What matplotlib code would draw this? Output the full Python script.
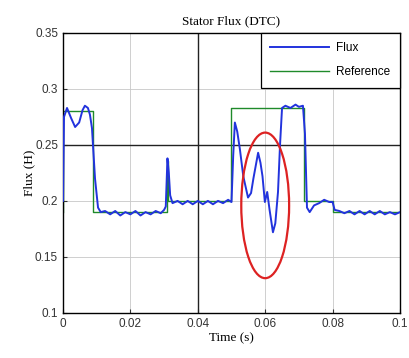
import matplotlib

matplotlib.use("Agg")

import matplotlib.pyplot as plt
from matplotlib.patches import Ellipse

# Flux trace (time in s, flux in H)
flux_t = [
    0.0, 0.0003, 0.0012, 0.0024, 0.0036, 0.0048, 0.0058, 0.0065, 0.0074, 0.0080,
    0.0086, 0.0095, 0.0104, 0.0112, 0.0125, 0.014, 0.0155, 0.017, 0.0185, 0.020,
    0.0215, 0.023, 0.0245, 0.026, 0.0275, 0.029, 0.0300, 0.0305, 0.0310, 0.0314,
    0.0318, 0.0325, 0.034, 0.0355, 0.037, 0.0385, 0.040, 0.0415, 0.043, 0.0445,
    0.046, 0.0475, 0.049, 0.0500, 0.0505, 0.0510, 0.0517, 0.0525, 0.0535, 0.0549,
    0.0558, 0.0565, 0.0579, 0.0586, 0.0592, 0.0599, 0.0606, 0.0613, 0.0623, 0.0630,
    0.0638, 0.0644, 0.0650, 0.0660, 0.0675, 0.0690, 0.0700, 0.0712, 0.0718, 0.0724,
    0.0732, 0.0745, 0.0760, 0.0775, 0.0790, 0.0800, 0.0806, 0.082, 0.0835, 0.085,
    0.0865, 0.088, 0.0895, 0.091, 0.0925, 0.094, 0.0955, 0.097, 0.0985, 0.100,
]
flux_v = [
    0.200, 0.275, 0.283, 0.274, 0.266, 0.270, 0.281, 0.285, 0.283, 0.277,
    0.265, 0.220, 0.194, 0.190, 0.191, 0.188, 0.191, 0.187, 0.190, 0.188,
    0.191, 0.187, 0.190, 0.188, 0.191, 0.189, 0.192, 0.195, 0.238, 0.225,
    0.205, 0.198, 0.200, 0.197, 0.200, 0.197, 0.200, 0.197, 0.200, 0.197,
    0.200, 0.198, 0.201, 0.199, 0.240, 0.270, 0.262, 0.246, 0.222, 0.203,
    0.207, 0.220, 0.243, 0.234, 0.222, 0.199, 0.208, 0.192, 0.172, 0.180,
    0.208, 0.250, 0.283, 0.285, 0.283, 0.286, 0.284, 0.285, 0.260, 0.194,
    0.190, 0.196, 0.198, 0.201, 0.199, 0.199, 0.192, 0.191, 0.189, 0.191,
    0.188, 0.191, 0.188, 0.191, 0.188, 0.191, 0.188, 0.190, 0.188, 0.190,
]

# Reference flux (step profile)
ref_t = [0.0, 0.0, 0.0088, 0.0088, 0.0309, 0.0309, 0.0312, 0.0312, 0.0500, 0.0500,
         0.0715, 0.0715, 0.0800, 0.0800, 0.100]
ref_v = [0.190, 0.280, 0.280, 0.190, 0.190, 0.236, 0.236, 0.200, 0.200, 0.283,
         0.283, 0.200, 0.200, 0.190, 0.190]

x_ticks = [0, 0.02, 0.04, 0.06, 0.08, 0.1]
x_labels = ["0", "0.02", "0.04", "0.06", "0.08", "0.1"]
y_ticks = [0.1, 0.15, 0.2, 0.25, 0.3, 0.35]
y_labels = ["0.1", "0.15", "0.2", "0.25", "0.3", "0.35"]

fig = plt.figure(figsize=(4.09, 3.58), dpi=100)
ax = fig.add_axes([0.154, 0.126, 0.824, 0.782])

ax.grid(True, color="#c8c8c8", linewidth=0.6)
# the scanned figure shows a couple of grid lines much darker than the rest
ax.axvline(0.04, color="#222222", linewidth=1.0, zorder=1.8)
ax.axhline(0.25, color="#222222", linewidth=1.0, zorder=1.8)

ax.plot(ref_t, ref_v, color="#1f8a2a", linewidth=1.0, label="Reference", zorder=2)
ax.plot(flux_t, flux_v, color="#2233dd", linewidth=1.4, label="Flux", zorder=3)

# highlight of the transient region
ax.add_patch(Ellipse((0.060, 0.196), 0.0142, 0.130, fill=False,
                     edgecolor="#dd2222", linewidth=1.6, zorder=4))

ax.set_xlim(0, 0.1)
ax.set_ylim(0.1, 0.35)
ax.set_xticks(x_ticks)
ax.set_xticklabels(x_labels)
ax.set_yticks(y_ticks)
ax.set_yticklabels(y_labels)
ax.tick_params(direction="in", length=3, labelsize=8.5, colors="#333333")
for lbl in ax.get_xticklabels() + ax.get_yticklabels():
    lbl.set_family("Liberation Sans")
for sp in ax.spines.values():
    sp.set_linewidth(1.0)

ax.set_title("Stator Flux (DTC)", family="Liberation Serif", fontsize=9.5, pad=6)
ax.set_xlabel("Time (s)", family="Liberation Serif", fontsize=9.5, labelpad=2)
ax.set_ylabel("Flux (H)", family="Liberation Serif", fontsize=9.5, labelpad=0)

handles, labels = ax.get_legend_handles_labels()
leg = ax.legend(handles[::-1], labels[::-1], loc="upper right", borderaxespad=0,
                fancybox=False, framealpha=1, edgecolor="black",
                prop={"family": "Liberation Sans", "size": 8.5},
                handlelength=5.0, handletextpad=0.6, borderpad=0.8,
                labelspacing=1.0)
leg.get_frame().set_linewidth(0.9)

fig.savefig("out.png", dpi=100)
